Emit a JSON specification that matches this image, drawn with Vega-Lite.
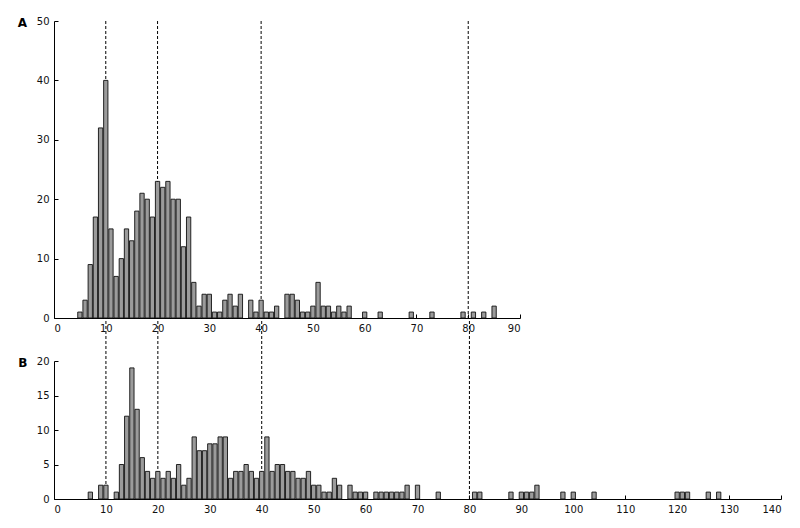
{
  "$schema": "https://vega.github.io/schema/vega-lite/v6.json",
  "background": "white",
  "padding": {"left": 17, "top": 16, "right": 5, "bottom": 5},
  "spacing": 43,
  "bounds": "flush",
  "config": {
    "view": {"stroke": null},
    "axis": {"grid": false, "domainColor": "#000", "tickColor": "#000", "labelFont": "DejaVu Sans", "labelFontSize": 10, "labelColor": "#111", "title": null, "tickSize": -4, "labelPadding": 9, "labelOverlap": false}
  },
  "datasets": {
    "a": [
      {"v": 5, "n": 1}, {"v": 6, "n": 3}, {"v": 7, "n": 9}, {"v": 8, "n": 17}, {"v": 9, "n": 32}, {"v": 10, "n": 40},
      {"v": 11, "n": 15}, {"v": 12, "n": 7}, {"v": 13, "n": 10}, {"v": 14, "n": 15}, {"v": 15, "n": 13}, {"v": 16, "n": 18},
      {"v": 17, "n": 21}, {"v": 18, "n": 20}, {"v": 19, "n": 17}, {"v": 20, "n": 23}, {"v": 21, "n": 22}, {"v": 22, "n": 23},
      {"v": 23, "n": 20}, {"v": 24, "n": 20}, {"v": 25, "n": 12}, {"v": 26, "n": 17}, {"v": 27, "n": 6}, {"v": 28, "n": 2},
      {"v": 29, "n": 4}, {"v": 30, "n": 4}, {"v": 31, "n": 1}, {"v": 32, "n": 1}, {"v": 33, "n": 3}, {"v": 34, "n": 4},
      {"v": 35, "n": 2}, {"v": 36, "n": 4}, {"v": 38, "n": 3}, {"v": 39, "n": 1}, {"v": 40, "n": 3}, {"v": 41, "n": 1},
      {"v": 42, "n": 1}, {"v": 43, "n": 2}, {"v": 45, "n": 4}, {"v": 46, "n": 4}, {"v": 47, "n": 3}, {"v": 48, "n": 1},
      {"v": 49, "n": 1}, {"v": 50, "n": 2}, {"v": 51, "n": 6}, {"v": 52, "n": 2}, {"v": 53, "n": 2}, {"v": 54, "n": 1},
      {"v": 55, "n": 2}, {"v": 56, "n": 1}, {"v": 57, "n": 2}, {"v": 60, "n": 1}, {"v": 63, "n": 1}, {"v": 69, "n": 1},
      {"v": 73, "n": 1}, {"v": 79, "n": 1}, {"v": 81, "n": 1}, {"v": 83, "n": 1}, {"v": 85, "n": 2}
    ],
    "b": [
      {"v": 7, "n": 1}, {"v": 9, "n": 2}, {"v": 10, "n": 2}, {"v": 12, "n": 1}, {"v": 13, "n": 5}, {"v": 14, "n": 12},
      {"v": 15, "n": 19}, {"v": 16, "n": 13}, {"v": 17, "n": 6}, {"v": 18, "n": 4}, {"v": 19, "n": 3}, {"v": 20, "n": 4},
      {"v": 21, "n": 3}, {"v": 22, "n": 4}, {"v": 23, "n": 3}, {"v": 24, "n": 5}, {"v": 25, "n": 2}, {"v": 26, "n": 3},
      {"v": 27, "n": 9}, {"v": 28, "n": 7}, {"v": 29, "n": 7}, {"v": 30, "n": 8}, {"v": 31, "n": 8}, {"v": 32, "n": 9},
      {"v": 33, "n": 9}, {"v": 34, "n": 3}, {"v": 35, "n": 4}, {"v": 36, "n": 4}, {"v": 37, "n": 5}, {"v": 38, "n": 4},
      {"v": 39, "n": 3}, {"v": 40, "n": 4}, {"v": 41, "n": 9}, {"v": 42, "n": 4}, {"v": 43, "n": 5}, {"v": 44, "n": 5},
      {"v": 45, "n": 4}, {"v": 46, "n": 4}, {"v": 47, "n": 3}, {"v": 48, "n": 3}, {"v": 49, "n": 4}, {"v": 50, "n": 2},
      {"v": 51, "n": 2}, {"v": 52, "n": 1}, {"v": 53, "n": 1}, {"v": 54, "n": 3}, {"v": 55, "n": 2}, {"v": 57, "n": 2},
      {"v": 58, "n": 1}, {"v": 59, "n": 1}, {"v": 60, "n": 1}, {"v": 62, "n": 1}, {"v": 63, "n": 1}, {"v": 64, "n": 1},
      {"v": 65, "n": 1}, {"v": 66, "n": 1}, {"v": 67, "n": 1}, {"v": 68, "n": 2}, {"v": 70, "n": 2}, {"v": 74, "n": 1},
      {"v": 81, "n": 1}, {"v": 82, "n": 1}, {"v": 88, "n": 1}, {"v": 90, "n": 1}, {"v": 91, "n": 1}, {"v": 92, "n": 1},
      {"v": 93, "n": 2}, {"v": 98, "n": 1}, {"v": 100, "n": 1}, {"v": 104, "n": 1}, {"v": 120, "n": 1}, {"v": 121, "n": 1},
      {"v": 122, "n": 1}, {"v": 126, "n": 1}, {"v": 128, "n": 1}
    ],
    "cuts": [{"x": 10}, {"x": 20}, {"x": 40}, {"x": 80}],
    "labA": [{"t": "A"}],
    "labB": [{"t": "B"}]
  },
  "vconcat": [
    {
      "width": 466,
      "height": 297,
      "layer": [
        {
          "data": {"name": "cuts"},
          "mark": {"type": "rule", "strokeDash": [3, 2], "color": "#000", "strokeWidth": 1},
          "encoding": {"x": {"field": "x", "type": "quantitative", "scale": {"domain": [0, 90], "nice": false, "padding": 0}, "axis": {"values": [0, 10, 20, 30, 40, 50, 60, 70, 80, 90]}}}
        },
        {
          "data": {"name": "a"},
          "mark": {"type": "bar", "width": 4.3, "fill": "#9b9b9b", "stroke": "#111", "strokeWidth": 0.9},
          "encoding": {
            "x": {"field": "v", "type": "quantitative", "scale": {"domain": [0, 90], "nice": false, "padding": 0}, "axis": {"values": [0, 10, 20, 30, 40, 50, 60, 70, 80, 90]}},
            "y": {"field": "n", "type": "quantitative", "scale": {"domain": [0, 50], "nice": false, "padding": 0}, "axis": {"values": [0, 10, 20, 30, 40, 50]}}
          }
        },
        {
          "data": {"name": "labA"},
          "mark": {"type": "text", "font": "DejaVu Sans", "fontSize": 12, "fontWeight": "bold", "align": "center", "baseline": "middle", "color": "#000"},
          "encoding": {
            "text": {"field": "t"},
            "x": {"datum": -6.1, "type": "quantitative", "axis": {"values": [0, 10, 20, 30, 40, 50, 60, 70, 80, 90]}},
            "y": {"datum": 49.6, "type": "quantitative", "axis": {"values": [0, 10, 20, 30, 40, 50]}}
          }
        }
      ]
    },
    {
      "width": 727,
      "height": 138,
      "layer": [
        {
          "data": {"name": "cuts"},
          "mark": {"type": "rule", "strokeDash": [3, 2], "color": "#000", "strokeWidth": 1},
          "encoding": {
            "x": {"field": "x", "type": "quantitative", "scale": {"domain": [0, 140], "nice": false, "padding": 0}, "axis": {"values": [0, 10, 20, 30, 40, 50, 60, 70, 80, 90, 100, 110, 120, 130, 140]}},
            "y": {"datum": 0, "type": "quantitative", "scale": {"domain": [0, 20], "nice": false, "padding": 0}, "axis": {"values": [0, 5, 10, 15, 20], "tickCount": 5}},
            "y2": {"datum": 26.2}
          }
        },
        {
          "data": {"name": "b"},
          "mark": {"type": "bar", "width": 4.3, "fill": "#9b9b9b", "stroke": "#111", "strokeWidth": 0.9},
          "encoding": {
            "x": {"field": "v", "type": "quantitative", "scale": {"domain": [0, 140], "nice": false, "padding": 0}, "axis": {"values": [0, 10, 20, 30, 40, 50, 60, 70, 80, 90, 100, 110, 120, 130, 140]}},
            "y": {"field": "n", "type": "quantitative", "scale": {"domain": [0, 20], "nice": false, "padding": 0}, "axis": {"values": [0, 5, 10, 15, 20], "tickCount": 5}}
          }
        },
        {
          "data": {"name": "labB"},
          "mark": {"type": "text", "font": "DejaVu Sans", "fontSize": 12, "fontWeight": "bold", "align": "center", "baseline": "middle", "color": "#000"},
          "encoding": {
            "text": {"field": "t"},
            "x": {"datum": -6.0, "type": "quantitative", "axis": {"values": [0, 10, 20, 30, 40, 50, 60, 70, 80, 90, 100, 110, 120, 130, 140]}},
            "y": {"datum": 19.7, "type": "quantitative", "axis": {"values": [0, 5, 10, 15, 20], "tickCount": 5}}
          }
        }
      ]
    }
  ]
}
